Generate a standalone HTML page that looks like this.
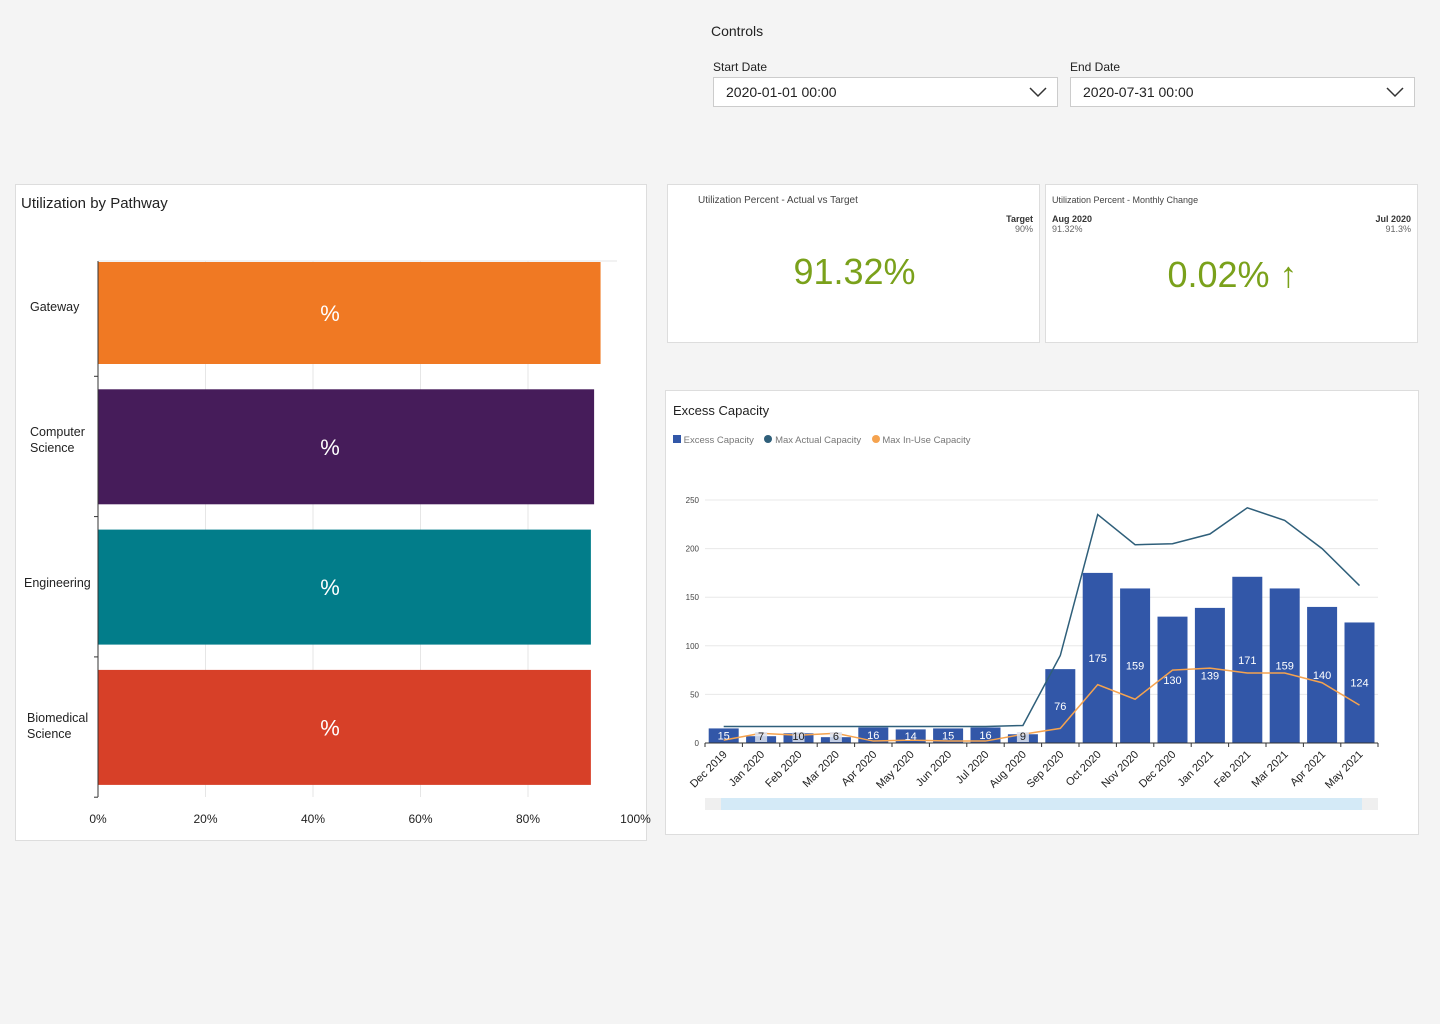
<!DOCTYPE html>
<html><head><meta charset="utf-8"><style>
body{margin:0;width:1440px;height:1024px;background:#f4f4f4;font-family:"Liberation Sans",sans-serif;position:relative;overflow:hidden;color:#222}
.abs{position:absolute}
.card{position:absolute;background:#fff;border:1px solid #ddd;box-sizing:border-box}
.sel{position:absolute;background:#fff;border:1px solid #ccc;box-sizing:border-box;font-size:14px;padding:6px 12px}
</style></head><body>
<div class="abs" style="left:711px;top:23px;font-size:14px">Controls</div>
<div class="abs" style="left:713px;top:60px;font-size:12px">Start Date</div>
<div class="sel" style="left:713px;top:77px;width:345px;height:30px">2020-01-01 00:00
<svg class="abs" style="right:10px;top:8px" width="18" height="12"><polyline points="1,2 9,10 17,2" fill="none" stroke="#333" stroke-width="1.5"/></svg></div>
<div class="abs" style="left:1070px;top:60px;font-size:12px">End Date</div>
<div class="sel" style="left:1070px;top:77px;width:345px;height:30px">2020-07-31 00:00
<svg class="abs" style="right:10px;top:8px" width="18" height="12"><polyline points="1,2 9,10 17,2" fill="none" stroke="#333" stroke-width="1.5"/></svg></div>

<div class="card" style="left:15px;top:184px;width:632px;height:657px">
<div class="abs" style="left:5px;top:10px;font-size:15px">Utilization by Pathway</div>
</div>
<svg id="pw" class="abs" style="left:0;top:0" width="660" height="840"></svg>

<div class="card" style="left:667px;top:184px;width:373px;height:159px">
<div class="abs" style="left:30px;top:10px;font-size:10px;color:#444">Utilization Percent - Actual vs Target</div>
<div class="abs" style="right:6px;top:29px;font-size:9px;text-align:right;color:#333"><b>Target</b><br><span style="color:#666">90%</span></div>
<div class="abs" style="left:0;width:373px;text-align:center;top:66px;font-size:36px;color:#7aa11b">91.32%</div>
</div>
<div class="card" style="left:1045px;top:184px;width:373px;height:159px">
<div class="abs" style="left:6px;top:10px;font-size:9px;color:#444">Utilization Percent - Monthly Change</div>
<div class="abs" style="left:6px;top:29px;font-size:9px;color:#333"><b>Aug 2020</b><br><span style="color:#666">91.32%</span></div>
<div class="abs" style="right:6px;top:29px;font-size:9px;text-align:right;color:#333"><b>Jul 2020</b><br><span style="color:#666">91.3%</span></div>
<div class="abs" style="left:0;width:373px;text-align:center;top:69px;font-size:36px;color:#7aa11b">0.02% ↑</div>
</div>

<div class="card" style="left:665px;top:390px;width:754px;height:445px">
<div class="abs" style="left:7px;top:12px;font-size:13px">Excess Capacity</div>
<div class="abs" style="left:7px;top:44px;font-size:9.5px;color:#777;white-space:nowrap">
<span><span style="display:inline-block;width:8px;height:8px;background:#3257a8"></span> Excess Capacity</span>&nbsp;&nbsp;&nbsp;
<span><span style="display:inline-block;width:8px;height:8px;border-radius:50%;background:#2f5f7a"></span> Max Actual Capacity</span>&nbsp;&nbsp;&nbsp;
<span><span style="display:inline-block;width:8px;height:8px;border-radius:50%;background:#f5a34f"></span> Max In-Use Capacity</span></div>
</div>
<svg id="ec" class="abs" style="left:0;top:0" width="1440" height="840"></svg>

<script>
const pathways=["Gateway","Computer Science","Engineering","Biomedical Science"];
const pathwayValues=[93.5,92.3,91.7,91.7];
const pathwayColors=["#f07923","#461c5a","#027d8a","#d74028"];
const pctTicks=[0,20,40,60,80,100];

const months=["Dec 2019","Jan 2020","Feb 2020","Mar 2020","Apr 2020","May 2020","Jun 2020","Jul 2020","Aug 2020","Sep 2020","Oct 2020","Nov 2020","Dec 2020","Jan 2021","Feb 2021","Mar 2021","Apr 2021","May 2021"];
const excess=[15,7,10,6,16,14,15,16,9,76,175,159,130,139,171,159,140,124];
const maxActual=[17,17,17,17,17,17,17,17,18,90,235,204,205,215,242,229,200,162];
const maxInUse=[3,10,8,10,2,3,2,2,9,15,60,45,75,77,72,72,62,39];
const yTicks=[0,50,100,150,200,250];

const NS="http://www.w3.org/2000/svg";
function mk(p,t,a,txt){const e=document.createElementNS(NS,t);for(const k in a)e.setAttribute(k,a[k]);if(txt!==undefined)e.textContent=txt;p.appendChild(e);return e;}

const pw=document.getElementById('pw');
const px=v=>98+v*5.375;
const bandTop=236,bandStep=140.3;
const labelY=[306,439,582,725];
pctTicks.forEach(t=>{
 if(t>0&&t<100){const g=mk(pw,'line',{x1:px(t),x2:px(t),y1:261,y2:797,stroke:'#e6e6e6'});
 }
 const l=mk(pw,'text',{x:px(t),y:823,'text-anchor':'middle','font-size':12,fill:'#222'},t+'%');
 
});
mk(pw,'line',{x1:98,x2:617,y1:261,y2:261,stroke:'#e6e6e6'});
pathways.forEach((c,i)=>{
 let y0=bandTop+i*bandStep+13, y1=y0+115; if(y0<262)y0=262;
 const r=mk(pw,'rect',{x:98,y:y0,width:px(pathwayValues[i])-98,height:y1-y0,fill:pathwayColors[i]});
 
 
 const t=mk(pw,'text',{x:330,y:(y0+y1)/2+8,'text-anchor':'middle','font-size':22,fill:'#fff'},'%');
 
 const words=c.split(' ');const cy=labelY[i];
 const lab=mk(pw,'text',{'font-size':12.5,fill:'#222'});
 
 const lx=words.length>1?(i==3?27:30):(c=="Gateway"?30:24);
 words.forEach((w,j)=>mk(lab,'tspan',{x:lx,y:cy-(words.length-1)*8+j*16+5},w));
 mk(pw,'line',{x1:94,x2:98,y1:bandTop+(i+1)*bandStep,y2:bandTop+(i+1)*bandStep,stroke:'#333'});
});
mk(pw,'line',{x1:98,x2:98,y1:261,y2:797,stroke:'#333'});

const ec=document.getElementById('ec');
const X0=705,step=37.4,Y0=743,ys=243/250;
const cx=i=>X0+step*(i+0.5);
const cy=v=>Y0-v*ys;
yTicks.forEach(t=>{
 if(t>0){const g=mk(ec,'line',{x1:705,x2:1378,y1:cy(t),y2:cy(t),stroke:'#e8e8e8'});
 }
 const l=mk(ec,'text',{x:699,y:cy(t)+3,'text-anchor':'end','font-size':8,fill:'#444'},t);
 
});
excess.forEach((v,i)=>{
 const r=mk(ec,'rect',{x:cx(i)-15,y:cy(v),width:30,height:v*ys,fill:'#3257a8'});
 
 
});
function line(arr,col,name){
 const p=mk(ec,'polyline',{points:arr.map((v,i)=>cx(i)+','+cy(v)).join(' '),fill:'none',stroke:col,'stroke-width':1.5});
 
}
line(maxActual,'#2f5f7a','max-actual-line');
line(maxInUse,'#f5a34f','max-inuse-line');
excess.forEach((v,i)=>{
 const small=v<12;
 const y=small?Y0-3:cy(v/2)+4;
 if(small) mk(ec,'rect',{x:cx(i)-6,y:Y0-11,width:12,height:10,fill:'#dde3f0',opacity:0.85});
 const t=mk(ec,'text',{x:cx(i),y:y,'text-anchor':'middle','font-size':11,fill:small?'#222':'#fff'},v);
 
});
mk(ec,'line',{x1:705,x2:1378,y1:Y0,y2:Y0,stroke:'#333'});
months.forEach((m,i)=>{
 mk(ec,'line',{x1:X0+step*i,x2:X0+step*i,y1:Y0,y2:Y0+4,stroke:'#333'});
 const t=mk(ec,'text',{x:cx(i)+4,y:Y0+12,'text-anchor':'end','font-size':11,fill:'#222',transform:`rotate(-45 ${cx(i)+4} ${Y0+12})`},m);
 
});
mk(ec,'line',{x1:1378,x2:1378,y1:Y0,y2:Y0+4,stroke:'#333'});
const tr=mk(ec,'rect',{x:705,y:798,width:673,height:12,fill:'#efefef'});

const th=mk(ec,'rect',{x:721,y:798,width:641,height:12,fill:'#d4eaf7'});

</script>
</body></html>
